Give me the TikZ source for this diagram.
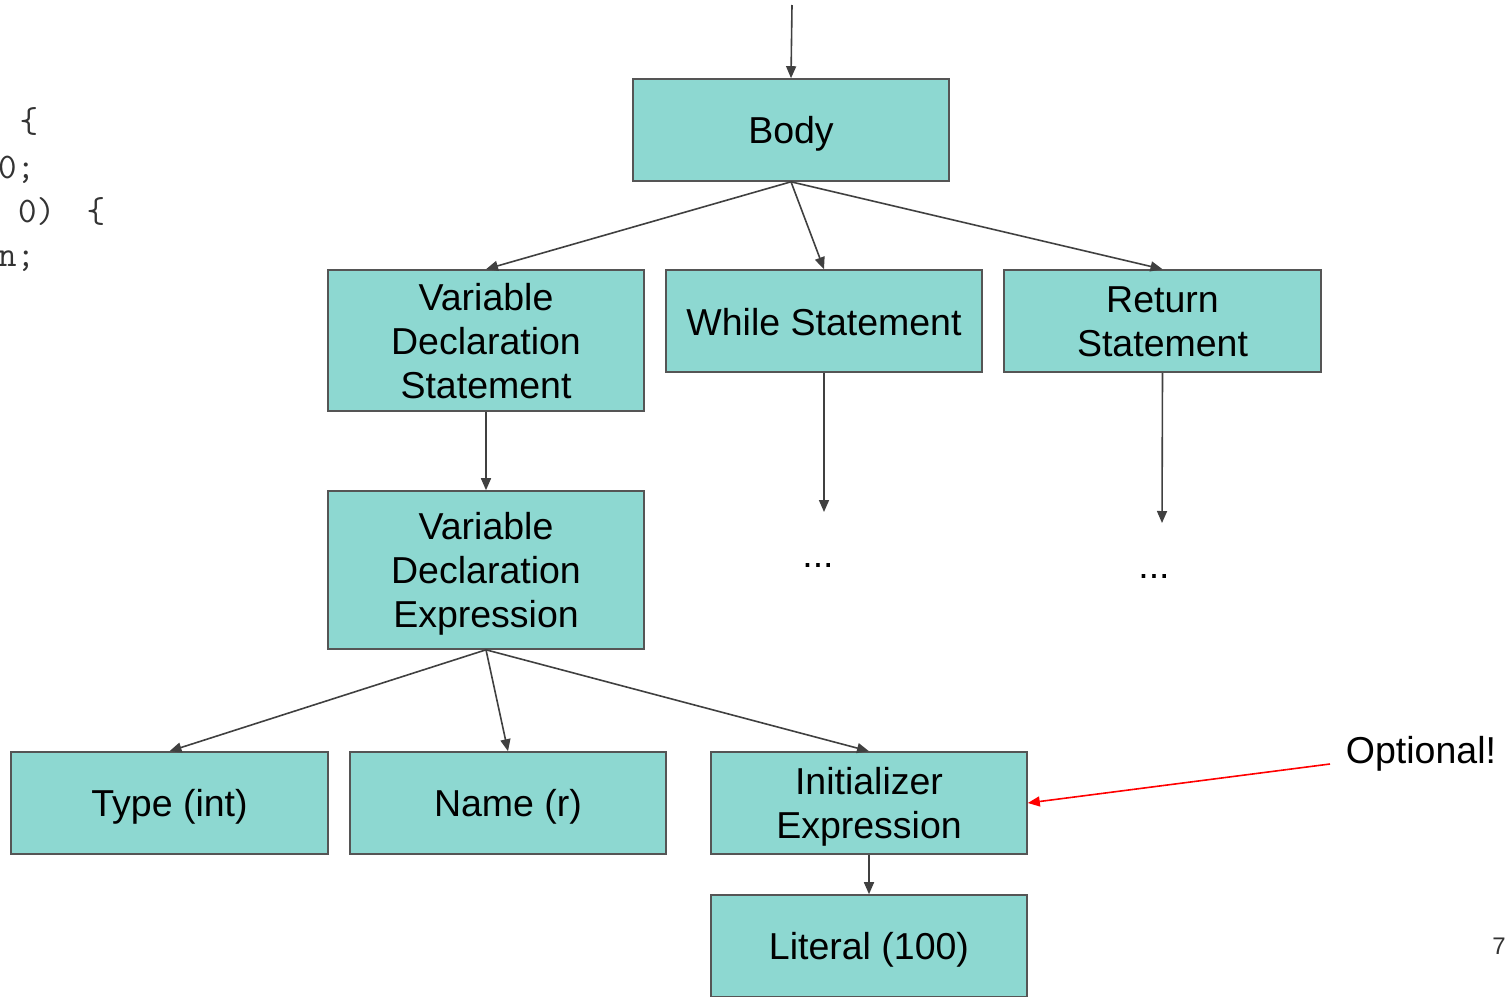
\documentclass[tikz,border=0pt]{standalone}
\usepackage{fontspec}
\setmainfont{Liberation Sans}
\usetikzlibrary{arrows.meta}
\definecolor{boxfill}{HTML}{8DD8D1}
\definecolor{boxline}{HTML}{555555}
\definecolor{arrowcol}{HTML}{404040}
\definecolor{codecol}{HTML}{333333}
\tikzset{
  astbox/.style={draw=boxline, fill=boxfill, line width=1.6pt, inner sep=0pt,
    minimum width=316pt, minimum height=102pt},
  boxtext/.style={inner sep=0pt, align=center, font=\fontsize{37.5}{44}\selectfont},
  conn/.style={draw=arrowcol, line width=1.6pt, -{Triangle[length=12pt,width=10pt]}},
  redconn/.style={draw=red, line width=1.6pt, -{Triangle[length=12pt,width=10pt]}},
  plain/.style={inner sep=0pt, font=\fontsize{37.5}{44}\selectfont},
  code/.style={inner sep=0pt, text=codecol, font=\ttfamily\fontsize{36}{40}\selectfont},
}
\begin{document}
\begin{tikzpicture}[x=1pt,y=-1pt]
\useasboundingbox (0,0) rectangle (1510,996);
\clip (0,0) rectangle (1510,996);
% code fragment
\node[code, anchor=base] (c1) at (29,132) {\{};
\node[code, anchor=base west] (c2) at (-2,178) {0;};
\node[code, anchor=base west] (c3) at (18,222) {0)};
\node[code, anchor=base] (c4) at (96,222) {\{};
\node[code, anchor=base west] (c5) at (-2,266) {n;};
% boxes
\node[astbox] (body) at (791,130) {};
\node[astbox, minimum height=141pt] (vds) at (486,340.5) {};
\node[astbox] (while) at (824,321) {};
\node[astbox, minimum width=317pt] (ret) at (1162.5,321) {};
\node[astbox, minimum height=158pt] (vde) at (486,570) {};
\node[astbox, minimum width=317pt] (type) at (169.5,803) {};
\node[astbox] (name) at (508,803) {};
\node[astbox] (init) at (869,803) {};
\node[astbox] (lit) at (869,946) {};
% box texts
\node[boxtext] (body-t) at ([yshift=-4pt]body.center) {Body};
\node[boxtext] (vds-t) at ([yshift=-1pt]vds.center) {Variable\\Declaration\\Statement};
\node[boxtext] (while-t) at ([yshift=-1pt]while.center) {While Statement};
\node[boxtext] (ret-t) at ([yshift=-1pt]ret.center) {Return\\Statement};
\node[boxtext] (vde-t) at ([yshift=-4pt]vde.center) {Variable\\Declaration\\Expression};
\node[boxtext] (type-t) at ([yshift=-4pt]type.center) {Type (int)};
\node[boxtext] (name-t) at ([yshift=-4pt]name.center) {Name (r)};
\node[boxtext] (init-t) at ([yshift=-4pt]init.center) {Initializer\\Expression};
\node[boxtext] (lit-t) at ([yshift=-4pt]lit.center) {Literal (100)};
% dots and labels
\node[plain, anchor=base] (dots1) at (818,567) {...};
\node[plain, anchor=base] (dots2) at (1154,578) {...};
\node[plain] (opt) at (1421,754) {Optional!};
\node[inner sep=0pt, text=codecol, font=\fontsize{24}{28}\selectfont] (page) at (1499,946) {7};
% free ends
\coordinate (top) at (792,5);
\coordinate (wend) at (824,512);
\coordinate (rend) at (1162,523);
\coordinate (optstart) at (1330,764);
% connectors
\draw[conn] (top) -- (body.north);
\draw[conn] (body.south) -- (vds.north);
\draw[conn] (body.south) -- (while.north);
\draw[conn] (body.south) -- (ret.north);
\draw[conn] (vds.south) -- (vde.north);
\draw[conn] (while.south) -- (wend);
\draw[conn] (ret.south) -- (rend);
\draw[conn] (vde.south) -- (type.north);
\draw[conn] (vde.south) -- (name.north);
\draw[conn] (vde.south) -- (init.north);
\draw[conn] (init.south) -- (lit.north);
\draw[redconn] (optstart) -- (init.east);
\end{tikzpicture}
\end{document}
